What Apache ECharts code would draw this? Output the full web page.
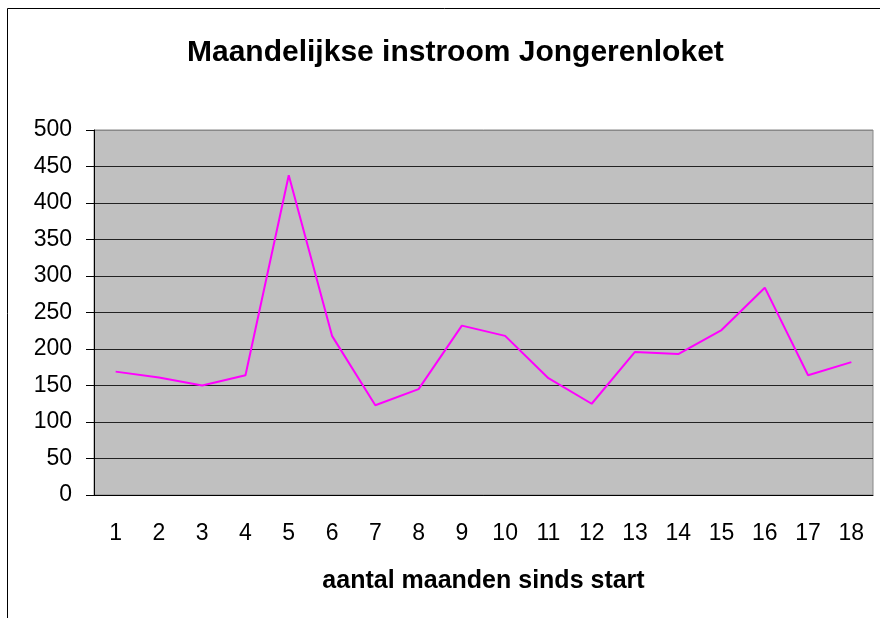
<!DOCTYPE html>
<html>
<head>
<meta charset="utf-8">
<style>
  html, body { margin: 0; padding: 0; background: #fff; }
  #chart { width: 880px; height: 618px; }
</style>
</head>
<body>
<div id="chart"></div>
<script src="https://cdn.jsdelivr.net/npm/echarts@6/dist/echarts.min.js"></script>
<script type="text/javascript">
    var months = ['1', '2', '3', '4', '5', '6', '7', '8', '9', '10', '11', '12', '13', '14', '15', '16', '17', '18'];
    var instroom = [169, 161, 150, 164, 438, 218, 123, 145, 232, 218, 160, 125, 196, 193, 226, 284, 164, 182];

    var gridColors = ['#222', '#222', '#222', '#222', '#222', '#222', '#222', '#222', '#222', '#222', '#888'];

    var myChart = echarts.init(document.getElementById('chart'));

    var option = {
        animation: false,
        backgroundColor: '#fff',
        textStyle: { fontFamily: 'Liberation Sans, Arial, sans-serif' },
        title: {
            text: 'Maandelijkse instroom Jongerenloket',
            left: 182,
            top: 33,
            textStyle: {
                fontSize: 30,
                fontWeight: 'bold',
                color: '#000',
                fontFamily: 'Liberation Sans, Arial, sans-serif'
            }
        },
        graphic: [{
            type: 'rect',
            shape: { x: 7.5, y: 8.5, width: 900, height: 700 },
            style: { fill: 'none', stroke: '#000', lineWidth: 1 },
            silent: true
        }],
        grid: {
            left: 94,
            right: 7,
            top: 130,
            bottom: 123,
            show: true,
            backgroundColor: '#C0C0C0',
            borderColor: '#888',
            borderWidth: 1
        },
        xAxis: {
            type: 'category',
            data: months,
            boundaryGap: true,
            name: 'aantal maanden sinds start',
            nameLocation: 'middle',
            nameGap: 74,
            nameTextStyle: {
                fontSize: 25,
                fontWeight: 'bold',
                color: '#000'
            },
            axisLine: { lineStyle: { color: '#000', width: 1 } },
            axisTick: { length: 8, lineStyle: { color: '#000' } },
            axisLabel: { fontSize: 23, color: '#000', margin: 27, interval: 0 },
            splitLine: { show: false }
        },
        yAxis: {
            type: 'value',
            min: 0,
            max: 500,
            interval: 50,
            axisLine: { show: true, lineStyle: { color: '#000', width: 1 } },
            axisTick: { show: true, length: 8, lineStyle: { color: '#000' } },
            axisLabel: { fontSize: 23, color: '#000', margin: 22 },
            splitLine: { show: true, lineStyle: { color: gridColors, width: 1.2 } }
        },
        series: [{
            name: 'instroom',
            type: 'line',
            data: instroom,
            symbol: 'none',
            lineStyle: { color: '#FF00FF', width: 2 },
            itemStyle: { color: '#FF00FF' }
        }]
    };

    myChart.setOption(option);
</script>
</body>
</html>
